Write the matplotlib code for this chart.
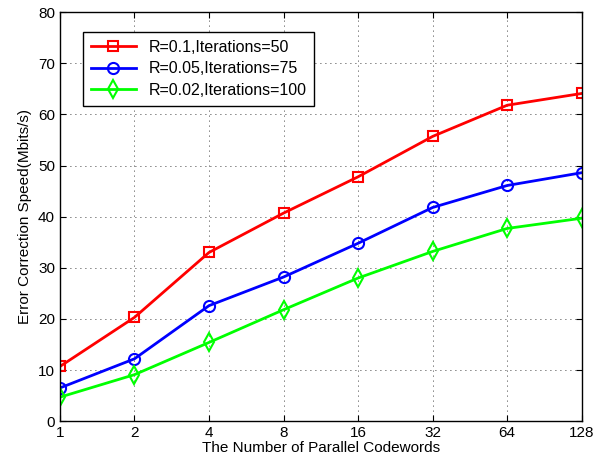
import matplotlib
matplotlib.use('Agg')
import matplotlib.pyplot as plt

plt.rcParams['font.family'] = ['Liberation Sans', 'DejaVu Sans']

codewords = ['1', '2', '4', '8', '16', '32', '64', '128']
speed_r01 = [10.7, 20.3, 33.0, 40.7, 47.8, 55.7, 61.8, 64.1]
speed_r005 = [6.5, 12.2, 22.6, 28.2, 34.8, 41.8, 46.1, 48.6]
speed_r002 = [4.7, 9.1, 15.4, 21.8, 28.0, 33.2, 37.7, 39.7]

fig = plt.figure(figsize=(5.93, 4.68), dpi=100)
ax = fig.add_axes([0.101, 0.10, 0.880, 0.874])

x = range(len(codewords))
ax.plot(x, speed_r01, color='#ff0000', lw=2, marker='s', ms=7, mfc='none', mew=1.5,
        label='R=0.1,Iterations=50')
ax.plot(x, speed_r005, color='#0000ff', lw=2, marker='o', ms=8, mfc='none', mew=1.5,
        label='R=0.05,Iterations=75')
ax.plot(x, speed_r002, color='#00ff00', lw=2, marker='d', ms=9, mfc='none', mew=1.5,
        label='R=0.02,Iterations=100')

ax.set_xlim(0, len(codewords) - 1)
ax.set_ylim(0, 80)
ax.set_xticks(list(x))
ax.set_xticklabels(codewords)
ax.set_yticks(range(0, 81, 10))
ax.tick_params(direction='in', labelsize=11, top=True, right=True, length=4)
ax.grid(True, color='black', linestyle=(0, (1, 5)), linewidth=0.6)
for s in ax.spines.values():
    s.set_linewidth(1.0)

ax.set_xlabel('The Number of Parallel Codewords', fontsize=11, labelpad=1)
ax.set_ylabel('Error Correction Speed(Mbits/s)', fontsize=11, labelpad=4)

leg = ax.legend(loc='upper left', bbox_to_anchor=(0.044, 0.952), borderaxespad=0,
                fontsize=11.5, fancybox=False, framealpha=1, edgecolor='black',
                handlelength=2.8, borderpad=0.5, labelspacing=0.4)
leg.get_frame().set_linewidth(1.0)

fig.savefig('out.png', dpi=100)
